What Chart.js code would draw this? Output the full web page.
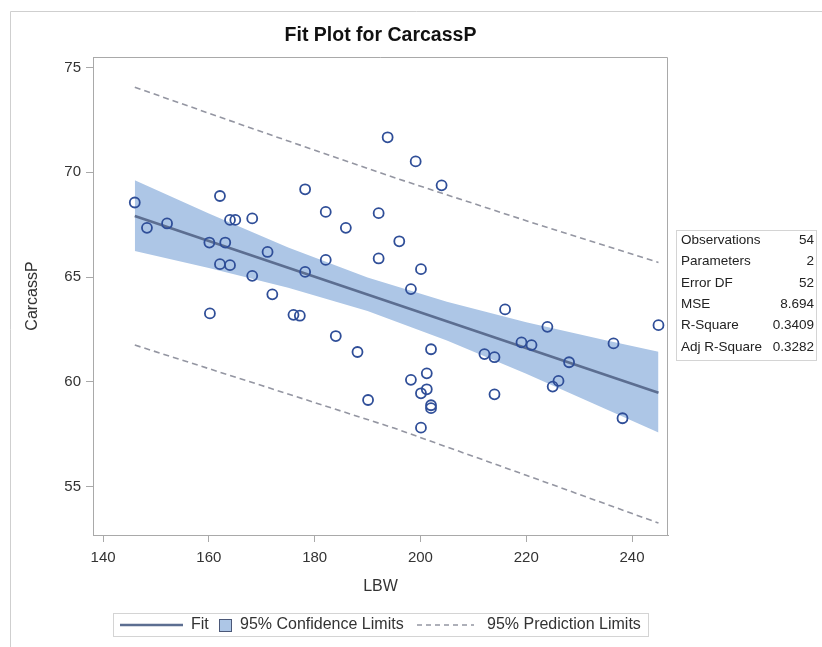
<!DOCTYPE html>
<html>
<head>
<meta charset="utf-8">
<script src="https://cdn.jsdelivr.net/npm/chart.js@4.4.1/dist/chart.umd.min.js"></script>
<style>
  body { margin: 0; background: #fff; }
  canvas { display: block; }
</style>
</head>
<body>
<canvas id="myChart" width="822" height="647"></canvas>
<script>
var lbw = [146, 148.3, 152.1, 162.1, 160.1, 163.1, 164, 165, 168.2, 162.1, 164, 168.2, 171.1, 178.2, 178.2, 182.1, 182.1, 185.9,
  192.1, 192.1, 193.8, 199.1, 204, 196, 200.1, 172, 160.2, 176, 177.2, 184, 188.1, 190.1, 198.2, 216, 224, 245, 219.1, 221,
  236.5, 202, 212.1, 214, 228.1, 198.2, 201.2, 201.2, 200.1, 226.1, 225, 214, 202, 202, 238.2, 200.1];
var carcassP = [68.56, 67.35, 67.56, 68.87, 66.65, 66.65, 67.73, 67.73, 67.8, 65.62, 65.57, 65.06, 66.2, 69.19, 65.25, 68.11, 65.82, 67.35,
  68.05, 65.89, 71.67, 70.52, 69.38, 66.71, 65.38, 64.18, 63.27, 63.2, 63.16, 62.19, 61.43, 59.14, 64.43, 63.46, 62.63, 62.71, 61.89, 61.76,
  61.84, 61.56, 61.33, 61.18, 60.94, 60.1, 60.41, 59.65, 59.46, 60.05, 59.78, 59.41, 58.89, 58.75, 58.27, 57.82];

var fitX = [146, 245];
var fitY = [67.92, 59.49];

var clmX = [146, 160, 175, 190, 205, 220, 235, 245];
var clmUpper = [69.62, 68.03, 66.41, 64.98, 63.82, 62.85, 61.99, 61.44];
var clmLower = [66.25, 65.43, 64.49, 63.38, 61.98, 60.39, 58.71, 57.59];

var predX = [146, 170, 195, 220, 245];
var predUpper = [74.06, 71.93, 69.75, 67.69, 65.70];
var predLower = [61.76, 59.83, 57.80, 55.55, 53.27];

var xTicks = [140, 160, 180, 200, 220, 240];
var yTicks = [55, 60, 65, 70, 75];

var statLabels = ['Observations', 'Parameters', 'Error DF', 'MSE', 'R-Square', 'Adj R-Square'];
var statValues = ['54', '2', '52', '8.694', '0.3409', '0.3282'];

var FONT = "'Liberation Sans', Arial, sans-serif";
var bandColor = '#adc6e6';
var fitColor = '#5c6e91';
var pointColor = '#2f4e98';
var predColor = '#9496a2';
var frameColor = '#a9a9a9';

function xy(xs, ys) {
  return xs.map(function (x, i) { return { x: x, y: ys[i] }; });
}

var extras = {
  id: 'extras',
  afterDraw: function (chart) {
    var ctx = chart.ctx;
    var a = chart.chartArea;
    ctx.save();

    // page border
    ctx.strokeStyle = '#cfcfcf';
    ctx.lineWidth = 1;
    ctx.beginPath();
    ctx.moveTo(10.5, 647);
    ctx.lineTo(10.5, 11.5);
    ctx.lineTo(822, 11.5);
    ctx.stroke();

    // top and right of the frame
    ctx.strokeStyle = frameColor;
    ctx.beginPath();
    ctx.moveTo(a.left, a.top + 0.5);
    ctx.lineTo(a.right - 0.5, a.top + 0.5);
    ctx.lineTo(a.right - 0.5, a.bottom);
    ctx.stroke();

    // fit statistics table
    ctx.strokeStyle = '#d4d4d4';
    ctx.strokeRect(676.5, 230.5, 140, 130);
    ctx.font = '13.5px ' + FONT;
    ctx.fillStyle = '#222';
    ctx.textBaseline = 'middle';
    statLabels.forEach(function (lab, i) {
      var y = 240 + i * 21.4;
      ctx.textAlign = 'left';
      ctx.fillText(lab, 681, y);
      ctx.textAlign = 'right';
      ctx.fillText(statValues[i], 814, y);
    });

    // legend
    var ly = 625;
    ctx.strokeStyle = '#d4d4d4';
    ctx.strokeRect(113.5, 613.5, 535, 23);
    ctx.strokeStyle = fitColor;
    ctx.lineWidth = 2.5;
    ctx.beginPath();
    ctx.moveTo(120, ly);
    ctx.lineTo(183, ly);
    ctx.stroke();
    ctx.fillStyle = bandColor;
    ctx.fillRect(219.5, 619.5, 12, 12);
    ctx.strokeStyle = '#4b5878';
    ctx.lineWidth = 1;
    ctx.strokeRect(219.5, 619.5, 12, 12);
    ctx.strokeStyle = predColor;
    ctx.lineWidth = 1.4;
    ctx.setLineDash([5, 4]);
    ctx.beginPath();
    ctx.moveTo(417, ly);
    ctx.lineTo(474, ly);
    ctx.stroke();
    ctx.setLineDash([]);
    ctx.font = '16px ' + FONT;
    ctx.fillStyle = '#333';
    ctx.textAlign = 'left';
    ctx.fillText('Fit', 191, ly);
    ctx.fillText('95% Confidence Limits', 240, ly);
    ctx.fillText('95% Prediction Limits', 487, ly);

    ctx.restore();
  }
};

var ctx = document.getElementById('myChart').getContext('2d');
var myChart = new Chart(ctx, {
  type: 'scatter',
  data: {
    datasets: [
      {
        label: 'CarcassP',
        data: xy(lbw, carcassP),
        order: 0,
        pointStyle: 'circle',
        pointRadius: 5,
        pointBorderWidth: 1.8,
        borderColor: pointColor,
        backgroundColor: 'rgba(0,0,0,0)'
      },
      {
        label: 'Fit',
        data: xy(fitX, fitY),
        order: 1,
        showLine: true,
        pointRadius: 0,
        borderColor: fitColor,
        borderWidth: 2.6
      },
      {
        label: '95% Prediction Limits',
        data: xy(predX, predUpper),
        order: 2,
        showLine: true,
        pointRadius: 0,
        borderColor: predColor,
        borderWidth: 1.6,
        borderDash: [6, 4]
      },
      {
        label: '95% Prediction Lower',
        data: xy(predX, predLower),
        order: 2,
        showLine: true,
        pointRadius: 0,
        borderColor: predColor,
        borderWidth: 1.6,
        borderDash: [6, 4]
      },
      {
        label: '95% Confidence Limits',
        data: xy(clmX, clmUpper),
        order: 3,
        showLine: true,
        pointRadius: 0,
        borderWidth: 0,
        borderColor: 'rgba(0,0,0,0)',
        backgroundColor: bandColor,
        fill: '+1'
      },
      {
        label: '95% Confidence Lower',
        data: xy(clmX, clmLower),
        order: 4,
        showLine: true,
        pointRadius: 0,
        borderWidth: 0,
        borderColor: 'rgba(0,0,0,0)',
        fill: false
      }
    ]
  },
  options: {
    responsive: false,
    animation: false,
    layout: { padding: { left: 0, top: 0, right: 154, bottom: 47 } },
    plugins: {
      legend: { display: false },
      tooltip: { enabled: false },
      title: {
        display: true,
        fullSize: false,
        text: 'Fit Plot for CarcassP',
        color: '#111',
        font: { family: FONT, size: 19.5, weight: 'bold', lineHeight: 1 },
        padding: { top: 26, bottom: 11.5 }
      }
    },
    scales: {
      x: {
        type: 'linear',
        min: 138.1,
        max: 246.8,
        afterBuildTicks: function (axis) { axis.ticks = xTicks.map(function (v) { return { value: v }; }); },
        afterFit: function (axis) { axis.height = 65; },
        ticks: { color: '#333', padding: 7, maxRotation: 0, font: { family: FONT, size: 15 } },
        grid: { drawOnChartArea: false, tickLength: 7, color: frameColor },
        border: { color: frameColor },
        title: { display: true, text: 'LBW', color: '#333', font: { family: FONT, size: 16, lineHeight: 1.2 }, padding: { top: 0, bottom: 3.4 } }
      },
      y: {
        type: 'linear',
        min: 52.7,
        max: 75.5,
        afterBuildTicks: function (axis) { axis.ticks = yTicks.map(function (v) { return { value: v }; }); },
        afterFit: function (axis) { axis.width = 93; },
        ticks: { color: '#333', padding: 5, font: { family: FONT, size: 15 } },
        grid: { drawOnChartArea: false, tickLength: 7, color: frameColor },
        border: { color: frameColor },
        title: { display: true, text: 'CarcassP', color: '#333', font: { family: FONT, size: 16, lineHeight: 1.2 }, padding: { top: 23.4, bottom: 0 } }
      }
    }
  },
  plugins: [extras]
});
</script>
</body>
</html>
